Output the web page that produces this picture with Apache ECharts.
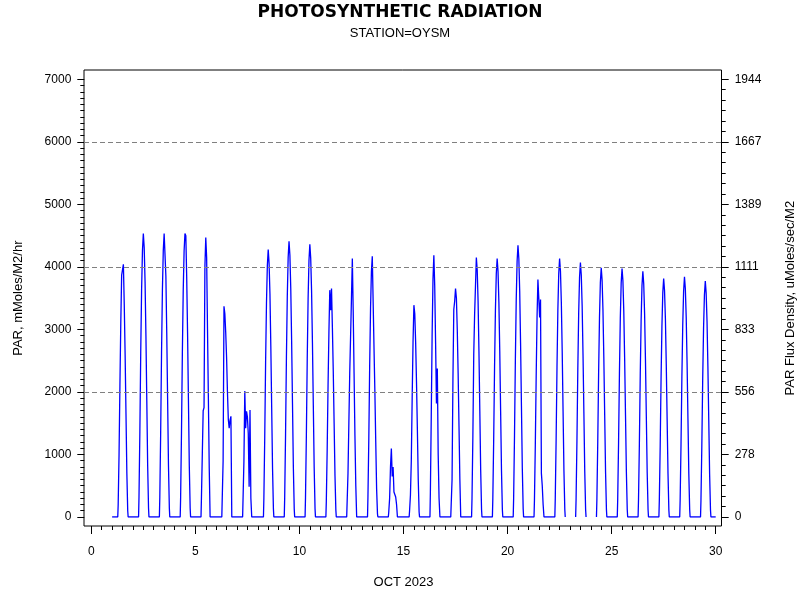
<!DOCTYPE html>
<html>
<head>
<meta charset="utf-8">
<script src="https://cdn.jsdelivr.net/npm/echarts@6/dist/echarts.min.js"></script>
<style>
html, body { margin: 0; padding: 0; background: #fff; }
#chart { width: 800px; height: 600px; }
</style>
</head>
<body>
<div id="chart"></div>
<script>
// Hour of day at which each daily value was read (local time)
const HOURS = [6.5, 7, 8, 9, 10, 11, 12, 13, 14, 15, 16, 17, 18, 18.5];

// PAR, mMoles/M2/hr, one row per day (Oct 1 .. Oct 29), values at HOURS
const week1 = [
  [0, 200, 1000, 2100, 3100, 3870, 3880, 4040, 3400, 2600, 1650, 700, 100, 0],
  [0, 320, 1360, 2630, 3630, 4260, 4534, 4310, 3760, 2900, 1860, 820, 140, 0],
  [0, 320, 1360, 2630, 3630, 4260, 4534, 4510, 3850, 2950, 1880, 820, 140, 0],
  [0, 310, 1350, 2620, 3620, 4250, 4534, 4500, 3840, 2950, 1880, 820, 140, 0],
  [0, 300, 1000, 1700, 1750, 4000, 4470, 4150, 3000, 1900, 780, 0, 0, 0],
  [0, 0, 900, 3370, 3250, 2950, 2550, 2000, 1560, 1420, 1550, 1610, 0, 0],
  [0, 0, 900, 2014, 1420, 1690, 1600, 1340, 485, 1710, 300, 0, 0, 0]
];
const week2 = [
  [0, 300, 1280, 2480, 3420, 4020, 4278, 4060, 3570, 2740, 1750, 770, 130, 0],
  [0, 310, 1320, 2560, 3530, 4150, 4411, 4190, 3660, 2820, 1810, 790, 130, 0],
  [0, 310, 1310, 2530, 3490, 4100, 4363, 4140, 3620, 2790, 1790, 790, 130, 0],
  [0, 250, 1080, 2100, 2950, 3628, 3308, 3655, 3030, 2340, 1500, 660, 110, 0],
  [0, 0, 700, 1500, 2300, 2900, 3500, 4134, 3300, 2300, 1300, 500, 0, 0],
  [0, 320, 1250, 2420, 3340, 3920, 4171, 4150, 2700, 2000, 1200, 450, 50, 0],
  [0, 80, 300, 800, 1097, 650, 800, 400, 360, 320, 200, 0, 0, 0]
];
const week3 = [
  [0, 100, 350, 900, 1900, 2800, 3388, 3250, 2800, 2150, 1400, 600, 80, 0],
  [0, 400, 1600, 2900, 3800, 4187, 3700, 2800, 1817, 2376, 1000, 300, 0, 0],
  [0, 0, 600, 2200, 3319, 3450, 3655, 3500, 3000, 2300, 1450, 600, 0, 0],
  [0, 300, 1300, 2600, 3239, 3260, 4150, 3950, 3450, 2650, 1700, 750, 120, 0],
  [0, 290, 1240, 2400, 3310, 3890, 4134, 3930, 3430, 2650, 1690, 740, 120, 0],
  [0, 300, 1300, 2520, 3480, 4090, 4347, 4130, 3610, 2780, 1780, 780, 130, 0],
  [0, 270, 1150, 2250, 3200, 3798, 3500, 3191, 3479, 698, 500, 200, 0, 0]
];
const week4 = [
  [0, 290, 1240, 2400, 3310, 3890, 4134, 3930, 3430, 2650, 1690, 740, 120, 0],
  [0, 280, 1220, 2360, 3260, 3830, 4070, 3870, 3380, 2600, 1670, 730, 120, 0],
  [0, 280, 1200, 2310, 3190, 3750, 3985, 3790, 3310, 2550, 1630, 720, 120, 0],
  [0, 280, 1190, 2300, 3180, 3740, 3974, 3780, 3300, 2540, 1630, 720, 120, 0],
  [0, 280, 1180, 2280, 3140, 3700, 3931, 3730, 3260, 2520, 1610, 710, 120, 0],
  [0, 270, 1140, 2210, 3050, 3590, 3814, 3620, 3170, 2440, 1560, 690, 110, 0],
  [0, 270, 1150, 2230, 3070, 3610, 3841, 3650, 3190, 2460, 1570, 690, 120, 0],
  [0, 260, 1130, 2190, 3020, 3550, 3772, 3580, 3130, 2410, 1550, 680, 110, 0]
];
// Nights with missing records (after these days)
const GAP_NIGHTS = [22, 23];
const DATA_START = [1, 0];
const DATA_END = [30, 0];
const GRID_VALUES = [2000, 4000, 6000];

const TITLE = 'PHOTOSYNTHETIC RADIATION';
const SUBTITLE = 'STATION=OYSM';
const X_NAME = 'OCT 2023';
const Y_NAME_LEFT = 'PAR, mMoles/M2/hr';
const Y_NAME_RIGHT = 'PAR Flux Density, uMoles/sec/M2';

// build series points
const allDays = [].concat(week1, week2, week3, week4);
const points = [DATA_START];
allDays.forEach(function (vals, i) {
  const d = i + 1;
  vals.forEach(function (v, k) { points.push([d + HOURS[k] / 24, v]); });
  if (GAP_NIGHTS.indexOf(d) >= 0) points.push([d + 0.9, '-']);
});
points.push(DATA_END);

const FONT = '"Liberation Sans", Arial, sans-serif';
const txt = { fontFamily: FONT, fontSize: 12, color: '#000' };
const nameTxt = { fontFamily: FONT, fontSize: 13, color: '#000' };
const plain = function (v) { return String(Math.round(v)); };

const chart = echarts.init(document.getElementById('chart'), null, { renderer: 'canvas' });
chart.setOption({
  animation: false,
  backgroundColor: '#fff',
  title: [
    { text: TITLE, left: 'center', top: -1,
      textStyle: { fontFamily: '"DejaVu Sans", sans-serif', fontWeight: 'bold', fontSize: 17, color: '#000' } },
    { text: SUBTITLE, left: 'center', top: 22,
      textStyle: { fontFamily: FONT, fontWeight: 'normal', fontSize: 13, color: '#000' } }
  ],
  grid: [
    { left: 91.3, right: 84.3, top: 79.3, bottom: 83, containLabel: false, outerBoundsMode: 'none' },
    { left: 84, right: 78.5, top: 70, bottom: 74, containLabel: false, outerBoundsMode: 'none',
      show: true, borderColor: '#000', borderWidth: 1, backgroundColor: 'transparent' }
  ],
  xAxis: [
    { gridIndex: 0, type: 'value', position: 'bottom', min: 0, max: 30, interval: 5, offset: 9,
      axisLine: { show: false, onZero: false },
      axisTick: { show: true, inside: false, length: 8, lineStyle: { color: '#000', width: 1 } },
      minorTick: { show: true, splitNumber: 10, length: 4, lineStyle: { color: '#000', width: 1 } },
      axisLabel: Object.assign({ margin: 20, formatter: plain }, txt),
      splitLine: { show: false },
      name: X_NAME, nameLocation: 'middle', nameGap: 50, nameTextStyle: nameTxt },
    { gridIndex: 1, type: 'value', min: 0, max: 1, show: false }
  ],
  yAxis: [
    { gridIndex: 0, type: 'value', position: 'left', min: 0, max: 7000, interval: 1000, offset: 7,
      axisLine: { show: false, onZero: false },
      axisTick: { show: true, inside: false, length: 7, lineStyle: { color: '#000', width: 1 } },
      minorTick: { show: true, splitNumber: 10, length: 4, lineStyle: { color: '#000', width: 1 } },
      axisLabel: Object.assign({ margin: 13, formatter: plain }, txt),
      splitLine: { show: false },
      name: Y_NAME_LEFT, nameLocation: 'middle', nameRotate: 90, nameGap: 59, nameTextStyle: nameTxt },
    { gridIndex: 0, type: 'value', position: 'right', min: 0, max: 7000 / 3.6, interval: 7000 / 3.6 / 7, offset: 6,
      axisLine: { show: false, onZero: false },
      axisTick: { show: true, inside: false, length: 7, lineStyle: { color: '#000', width: 1 } },
      minorTick: { show: true, splitNumber: 6, length: 4, lineStyle: { color: '#000', width: 1 } },
      axisLabel: Object.assign({ margin: 13, formatter: plain }, txt),
      splitLine: { show: false },
      name: Y_NAME_RIGHT, nameLocation: 'middle', nameRotate: 90, nameGap: 62, nameTextStyle: nameTxt },
    { gridIndex: 1, type: 'value', min: -144, max: 7149, show: false }
  ],
  series: [
    { type: 'line', xAxisIndex: 1, yAxisIndex: 2, data: [], silent: true, z: 1,
      markLine: { silent: true, symbol: ['none', 'none'], label: { show: false },
        lineStyle: { type: [5, 3], color: '#808080', width: 1 },
        data: GRID_VALUES.map(function (v) { return { yAxis: v }; }) } },
    { type: 'line', xAxisIndex: 0, yAxisIndex: 0, data: points, showSymbol: false, symbol: 'none',
      connectNulls: false, z: 3,
      lineStyle: { color: '#0000ff', width: 1.3 } }
  ]
});
</script>
</body>
</html>
